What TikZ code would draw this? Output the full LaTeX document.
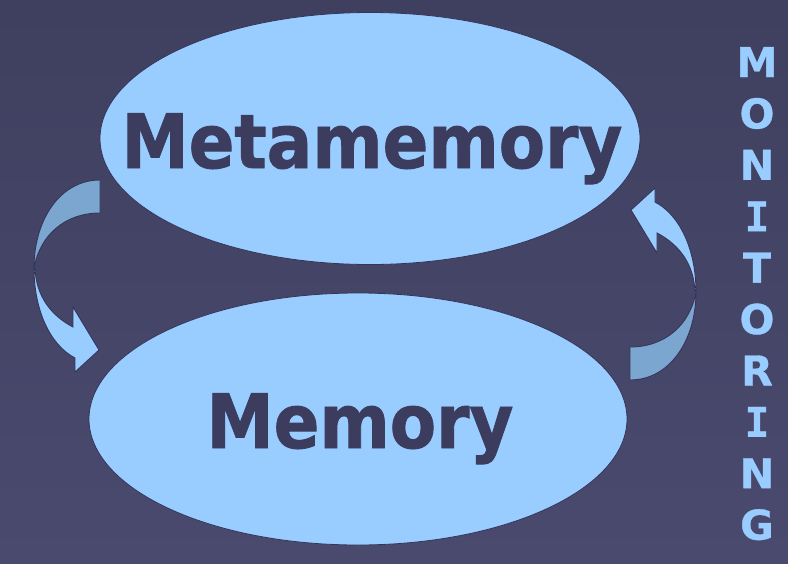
\documentclass[tikz,border=0pt]{standalone}
\usepackage{fontspec}
\setmainfont{DejaVu Sans}
\newfontfamily\heavyfont[FakeBold=1.2]{DejaVu Sans Bold}
\newfontfamily\heavymono[FakeBold=0.8]{DejaVu Sans Mono Bold}
\newfontfamily\heavysmall[FakeBold=0.8]{DejaVu Sans Bold}
\usetikzlibrary{shapes.geometric}
\definecolor{bgtop}{HTML}{3F3F5F}
\definecolor{bgbot}{HTML}{4A4A6F}
\definecolor{lightblue}{HTML}{99CCFF}
\definecolor{backblue}{HTML}{7AA6CF}
\definecolor{darktext}{HTML}{3C3C5E}
\definecolor{edge}{HTML}{35355A}
\tikzset{
  bubble/.style={ellipse, fill=lightblue, draw=edge, line width=0.8pt, inner sep=0pt},
  bigword/.style={text=darktext, anchor=base, inner sep=0pt, font=\fontsize{75}{80}\selectfont\heavyfont},
  vletter/.style={text=lightblue, anchor=base, inner sep=0pt, font=\fontsize{41}{44}\selectfont\heavysmall},
  backpart/.style={fill=backblue, draw=edge, line width=0.9pt, line join=miter},
  frontpart/.style={fill=lightblue, draw=edge, line width=0.9pt, line join=miter},
}
\newcommand{\curvedarrow}{%
  \path[backpart] (100,180) .. controls (60,180) and (34,220) .. (34,268)
     .. controls (40,235) and (65,213) .. (100,213) -- cycle;
  \path[frontpart] (34,268) .. controls (34,310) and (50,345) .. (75,358)
     -- (75,372) -- (99,350) -- (73,307) -- (73,327)
     .. controls (50,315) and (36,295) .. (35,268) -- cycle;
}
\begin{document}
\begin{tikzpicture}[x=1pt,y=-1pt]
  \shade[top color=bgtop, bottom color=bgbot] (0,0) rectangle (788,563);
  \useasboundingbox (0,0) rectangle (788,563);

  \node[bubble, minimum width=540pt, minimum height=252pt] (meta) at (370,138.5) {};
  \node[bubble, minimum width=538pt, minimum height=252pt] (mem) at (358,419) {};

  \node[bigword] (metatext) at (372,168) {\scalebox{0.9}[1]{Metamemory}};
  \node[bigword] (memtext) at (360,448) {\scalebox{0.9}[1]{Memory}};

  % left arrow (Metamemory -> Memory)
  \begin{scope}
    \curvedarrow
  \end{scope}
  % right arrow (Memory -> Metamemory), same shape turned half a turn
  \begin{scope}[rotate around={180:(365,280)}]
    \curvedarrow
  \end{scope}

  \foreach \ch [count=\i from 0] in {M,O,N,{\heavymono I},T,O,R,{\heavymono I},N,G}{
    \node[vletter] (mon\i) at (757,{77+51.4*\i}) {\ch};
  }
\end{tikzpicture}
\end{document}
